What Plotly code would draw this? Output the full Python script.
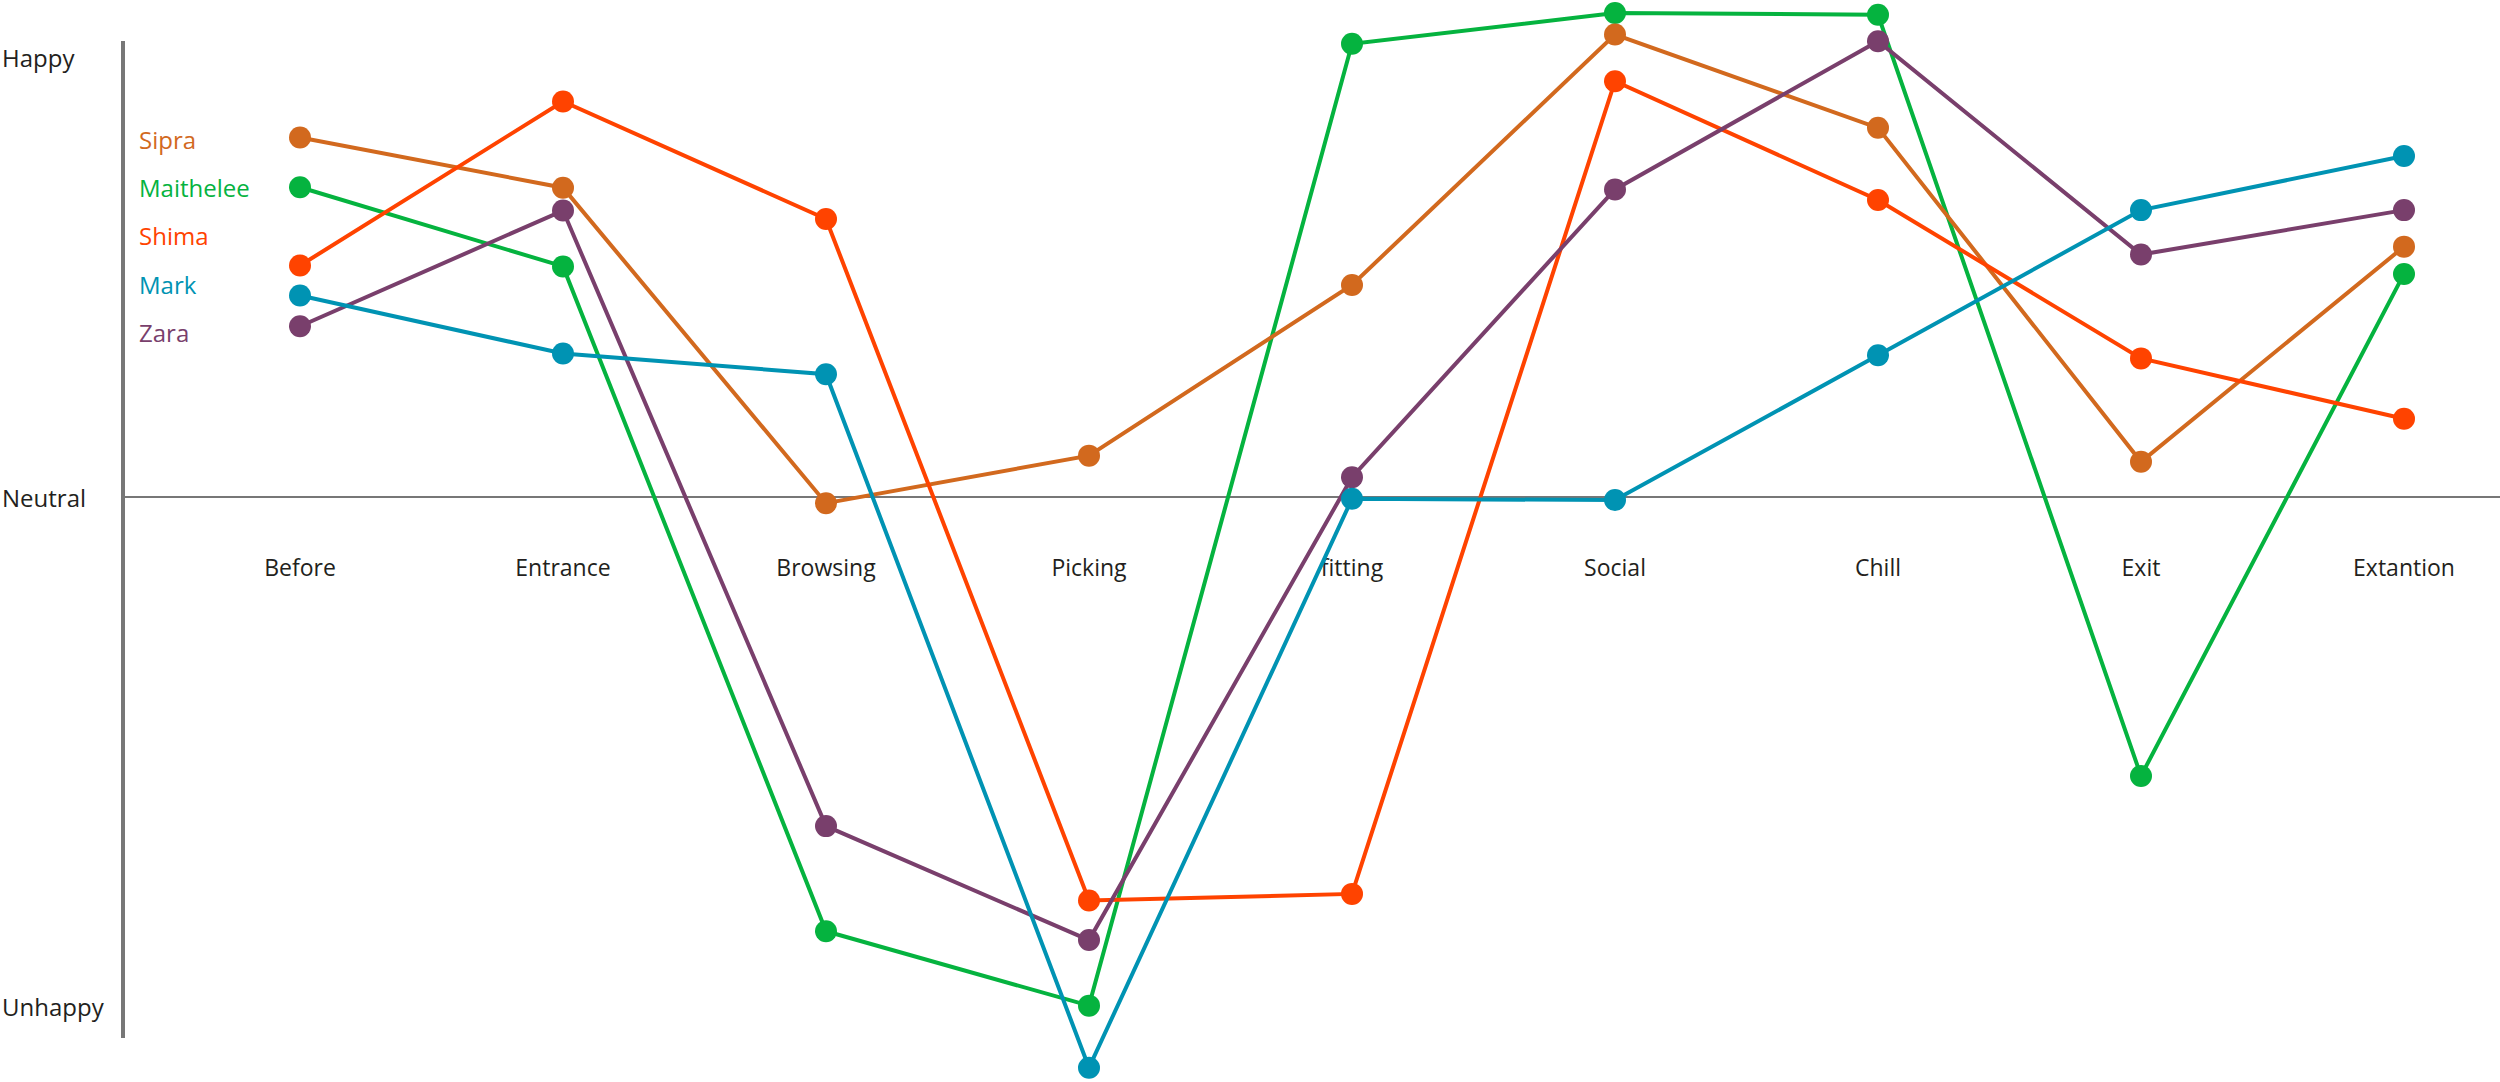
import plotly.graph_objects as go

# ---- data ----
stages = ["Before", "Entrance", "Browsing", "Picking", "fitting", "Social", "Chill", "Exit", "Extantion"]

series_names = ["Sipra", "Maithelee", "Shima", "Mark", "Zara"]
sipra = [8.17, 7.03, -0.14, 0.94, 4.82, 10.51, 8.39, 0.80, 5.69]
maithelee = [7.04, 5.24, -9.87, -11.56, 10.30, 11.00, 10.96, -6.34, 5.07]
shima = [5.26, 8.99, 6.32, -9.17, -9.02, 9.45, 6.75, 3.15, 1.78]
mark = [4.58, 3.26, 2.79, -12.97, -0.04, -0.07, 3.22, 6.52, 7.75]
zara = [3.88, 6.51, -7.48, -10.07, 0.45, 6.99, 10.36, 5.51, 6.52]

mood_tick_values = [10.0, 0.0, -11.58]
mood_tick_labels = ["Happy", "Neutral", "Unhappy"]

colors = {
    "Sipra": "#D2691E",
    "Maithelee": "#05B33F",
    "Shima": "#FF4300",
    "Mark": "#0093B3",
    "Zara": "#793F6C",
}
values = {"Sipra": sipra, "Maithelee": maithelee, "Shima": shima, "Mark": mark, "Zara": zara}

W, H = 2500, 1082
LEFT = 123
NEUTRAL_PX = 497
PX_PER_UNIT = 44.0
TEXT = "#231F20"
FONT = "Open Sans"

fig = go.Figure()
draw_order = ["Maithelee", "Sipra", "Shima", "Zara", "Mark"]
for name in draw_order:
    fig.add_trace(go.Scatter(
        x=stages, y=values[name], name=name, mode="lines+markers",
        line=dict(color=colors[name], width=4),
        marker=dict(color=colors[name], size=22),
        cliponaxis=False, showlegend=False,
    ))

annotations = []
# y-axis labels, left aligned at page edge
for v, lab in zip(mood_tick_values, mood_tick_labels):
    annotations.append(dict(
        x=0, xref="paper", xshift=-LEFT, xanchor="left",
        y=v, yref="y", yanchor="middle",
        text=lab, showarrow=False, font=dict(family=FONT, size=24, color=TEXT),
    ))
# legend as coloured text
legend_top_px = 140
legend_step_px = 48
for i, name in enumerate(series_names):
    ypx = legend_top_px + i * legend_step_px
    annotations.append(dict(
        x=0, xref="paper", xshift=14, xanchor="left",
        y=1 - ypx / H, yref="paper", yanchor="middle",
        text=name, showarrow=False, font=dict(family=FONT, size=24, color=colors[name]),
    ))

y_top = NEUTRAL_PX / PX_PER_UNIT
y_bot = -(H - NEUTRAL_PX) / PX_PER_UNIT

fig.update_layout(
    width=W, height=H,
    margin=dict(l=LEFT, r=0, t=0, b=0, pad=0),
    paper_bgcolor="white", plot_bgcolor="white",
    font=dict(family=FONT, size=23, color=TEXT),
    annotations=annotations,
    shapes=[dict(type="line", xref="paper", yref="paper", x0=0, x1=0,
                 y0=(H - 1038) / H, y1=(H - 41) / H,
                 line=dict(color="#777777", width=4), layer="below")],
    xaxis=dict(
        type="category", range=[-0.673, 8.365],
        anchor="free", position=(H - NEUTRAL_PX) / H,
        showgrid=False, showline=False, zeroline=False,
        ticks="outside", ticklen=50, tickcolor="rgba(0,0,0,0)",
        tickfont=dict(family=FONT, size=23, color=TEXT),
        layer="below traces",
    ),
    yaxis=dict(
        range=[y_bot, y_top], showgrid=False, showline=False,
        showticklabels=False, ticks="",
        zeroline=True, zerolinecolor="#777777", zerolinewidth=2,
    ),
)

fig.write_html(
    "out.html",
    config={"displayModeBar": False},
    post_script="document.body.style.margin='0';document.body.style.overflow='hidden';",
)
